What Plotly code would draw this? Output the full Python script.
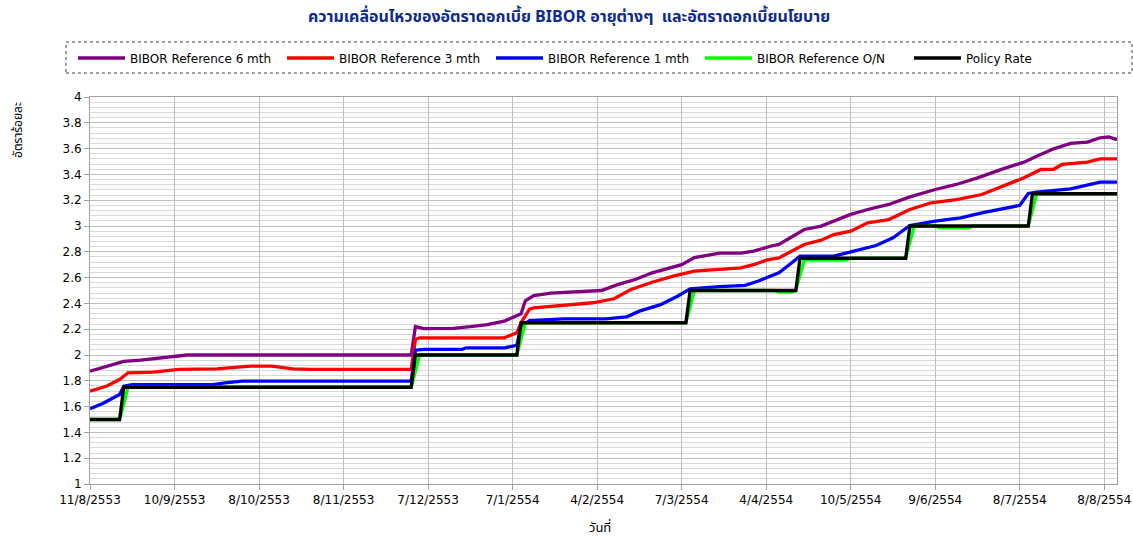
import plotly.graph_objects as go

# ---------------- data (trading-day index, value in %) ----------------
TICK_INDEX = [0, 20, 40, 60, 80, 100, 120, 140, 160, 180, 200, 220, 240]
TICK_LABELS = ["11/8/2553", "10/9/2553", "8/10/2553", "8/11/2553", "7/12/2553",
               "7/1/2554", "4/2/2554", "7/3/2554", "4/4/2554", "10/5/2554",
               "9/6/2554", "8/7/2554", "8/8/2554"]

m6_x = [0, 3, 6, 8, 12, 16, 20, 23, 76, 77, 79, 86, 90, 94, 98, 100, 102, 103, 105,
        109, 117, 121, 125, 129, 133, 136, 140, 143, 146, 149, 154, 157, 161, 163,
        165, 169, 173, 176, 180, 184, 189, 194, 200, 205, 210, 216, 221, 224, 228,
        232, 236, 239, 241, 243]
m6_y = [1.875, 1.905, 1.93, 1.95, 1.96, 1.975, 1.99, 2.00, 2.00, 2.22, 2.205, 2.207,
        2.22, 2.236, 2.262, 2.29, 2.32, 2.42, 2.46, 2.48, 2.495, 2.50, 2.547, 2.585,
        2.637, 2.665, 2.70, 2.755, 2.775, 2.79, 2.79, 2.805, 2.843, 2.857, 2.895,
        2.973, 2.999, 3.037, 3.09, 3.128, 3.167, 3.226, 3.283, 3.322, 3.373, 3.443,
        3.495, 3.541, 3.598, 3.64, 3.65, 3.684, 3.69, 3.67]

m3_x = [0, 4, 7, 9, 15, 21, 30, 36, 38, 43, 48, 52, 76, 77, 78, 98, 99, 101, 102, 104,
        105, 113, 119, 124, 128, 133, 138, 143, 149, 154, 157, 160, 163, 165, 169,
        173, 176, 180, 184, 189, 194, 199, 205, 211, 216, 221, 225, 228, 230, 236,
        239, 243]
m3_y = [1.72, 1.76, 1.81, 1.862, 1.868, 1.888, 1.893, 1.905, 1.913, 1.913, 1.893,
        1.888, 1.888, 2.12, 2.133, 2.133, 2.145, 2.172, 2.25, 2.355, 2.366, 2.39,
        2.405, 2.436, 2.508, 2.564, 2.611, 2.65, 2.663, 2.676, 2.70, 2.735, 2.753,
        2.79, 2.857, 2.89, 2.934, 2.96, 3.025, 3.05, 3.128, 3.18, 3.205, 3.244,
        3.309, 3.374, 3.438, 3.44, 3.477, 3.495, 3.52, 3.52]

m1_x = [0, 3, 7, 8, 10, 29, 32, 36, 76, 77, 79, 88, 89, 98, 101, 102, 104, 112, 122,
        127, 130, 135, 139, 142, 149, 155, 158, 163, 165, 168, 176, 181, 186, 190,
        194, 200, 206, 211, 216, 219, 220, 222, 224, 232, 236, 239, 243]
m1_y = [1.583, 1.624, 1.694, 1.758, 1.771, 1.771, 1.784, 1.797, 1.797, 2.037, 2.043,
        2.043, 2.056, 2.056, 2.074, 2.224, 2.267, 2.28, 2.28, 2.296, 2.34, 2.39,
        2.456, 2.513, 2.53, 2.54, 2.572, 2.637, 2.688, 2.766, 2.766, 2.805, 2.849,
        2.908, 3.004, 3.037, 3.063, 3.102, 3.133, 3.149, 3.16, 3.252, 3.262, 3.288,
        3.314, 3.34, 3.34]

on_x = [0, 7, 8, 9, 76, 77, 78, 101, 102, 103, 141, 142, 143, 162, 163, 166, 167,
        168, 169, 179, 180, 193, 194, 195, 200, 201, 208, 209, 222, 223, 224, 243]
on_y = [1.50, 1.50, 1.62, 1.75, 1.75, 1.87, 2.00, 2.00, 2.12, 2.25, 2.25, 2.37, 2.50,
        2.50, 2.487, 2.487, 2.50, 2.62, 2.735, 2.735, 2.75, 2.75, 2.87, 3.00, 3.00,
        2.985, 2.985, 3.00, 3.00, 3.12, 3.25, 3.25]

pol_x = [0, 7, 8, 76, 77, 101, 102, 141, 142, 167, 168, 193, 194, 222, 223, 243]
pol_y = [1.50, 1.50, 1.75, 1.75, 2.00, 2.00, 2.25, 2.25, 2.50, 2.50, 2.75, 2.75,
         3.00, 3.00, 3.25, 3.25]

SERIES = [
    ("BIBOR Reference 6 mth", m6_x, m6_y, "#800080"),
    ("BIBOR Reference 3 mth", m3_x, m3_y, "#FF0000"),
    ("BIBOR Reference 1 mth", m1_x, m1_y, "#0000FF"),
    ("BIBOR Reference O/N", on_x, on_y, "#00FF00"),
    ("Policy Rate", pol_x, pol_y, "#000000"),
]

FONT = "DejaVu Sans, Noto Sans, sans-serif"
THAI = "Tahoma, Noto Sans Thai, Loma, Garuda, DejaVu Sans, sans-serif"

W, H = 1133, 541
L, R, T, B = 90, 16, 97, 57
PW = W - L - R
PH = H - T - B


def xp(X):  # screen pixel -> paper x
    return (X - L) / PW


def yp(Y):  # screen pixel -> paper y
    return (T + PH - Y) / PH


fig = go.Figure()
for name, xs, ys, col in SERIES:
    fig.add_trace(go.Scatter(x=xs, y=ys, mode="lines", name=name,
                             line=dict(color=col, width=3.3)))

fig.update_layout(
    width=W, height=H,
    margin=dict(l=L, r=R, t=T, b=B, autoexpand=False),
    paper_bgcolor="white", plot_bgcolor="white",
    font=dict(family=FONT, size=12, color="black"),
    title=dict(text="<b>ความเคลื่อนไหวของอัตราดอกเบี้ย BIBOR อายุต่างๆ  และอัตราดอกเบี้ยนโยบาย</b>",
               x=569 / W, xref="container", xanchor="center",
               y=1 - 16 / H, yref="container", yanchor="middle",
               font=dict(family=THAI, size=16, color="#0B2A8C")),
    showlegend=True,
    legend=dict(orientation="h", x=xp(73), xanchor="left",
                y=yp(58), yanchor="middle",
                bgcolor="rgba(0,0,0,0)", borderwidth=0,
                font=dict(family=FONT, size=12, color="black"),
                itemwidth=47, entrywidth=147, entrywidthmode="pixels",
                tracegroupgap=0),
    xaxis=dict(range=[0, 243], tickmode="array", tickvals=TICK_INDEX, ticktext=TICK_LABELS,
               showgrid=True, gridcolor="#C0C0C0", gridwidth=1,
               ticks="outside", ticklen=5, tickcolor="#A0A0A0",
               showline=True, linecolor="#A0A0A0", linewidth=1, mirror=True,
               zeroline=False, tickfont=dict(family=FONT, size=12, color="black")),
    yaxis=dict(range=[1, 4], tick0=1, dtick=0.2,
               showgrid=True, gridcolor="#C0C0C0", gridwidth=1,
               minor=dict(dtick=0.04, showgrid=True, gridcolor="#D8D8D8", gridwidth=1),
               ticks="outside", ticklen=5, tickcolor="#A0A0A0",
               showline=True, linecolor="#A0A0A0", linewidth=1, mirror=True,
               zeroline=False, tickfont=dict(family=FONT, size=12, color="black")),
)

# dotted legend frame
fig.add_shape(type="rect", xref="paper", yref="paper",
              x0=xp(66), x1=xp(1132), y0=yp(73), y1=yp(42),
              line=dict(color="#404040", width=1, dash="dot"), layer="above")

# axis titles
fig.add_annotation(text="อัตราร้อยละ", xref="paper", yref="paper",
                   x=xp(18), y=yp(130), textangle=-90,
                   showarrow=False, xanchor="center", yanchor="middle",
                   font=dict(family=THAI, size=12, color="black"))
fig.add_annotation(text="วันที่", xref="paper", yref="paper",
                   x=xp(600), y=yp(528),
                   showarrow=False, xanchor="center", yanchor="middle",
                   font=dict(family=THAI, size=13, color="black"))

fig.write_html(
    "out.html",
    config={"displayModeBar": False},
    post_script="document.body.style.margin='0';document.body.style.overflow='hidden';",
)
